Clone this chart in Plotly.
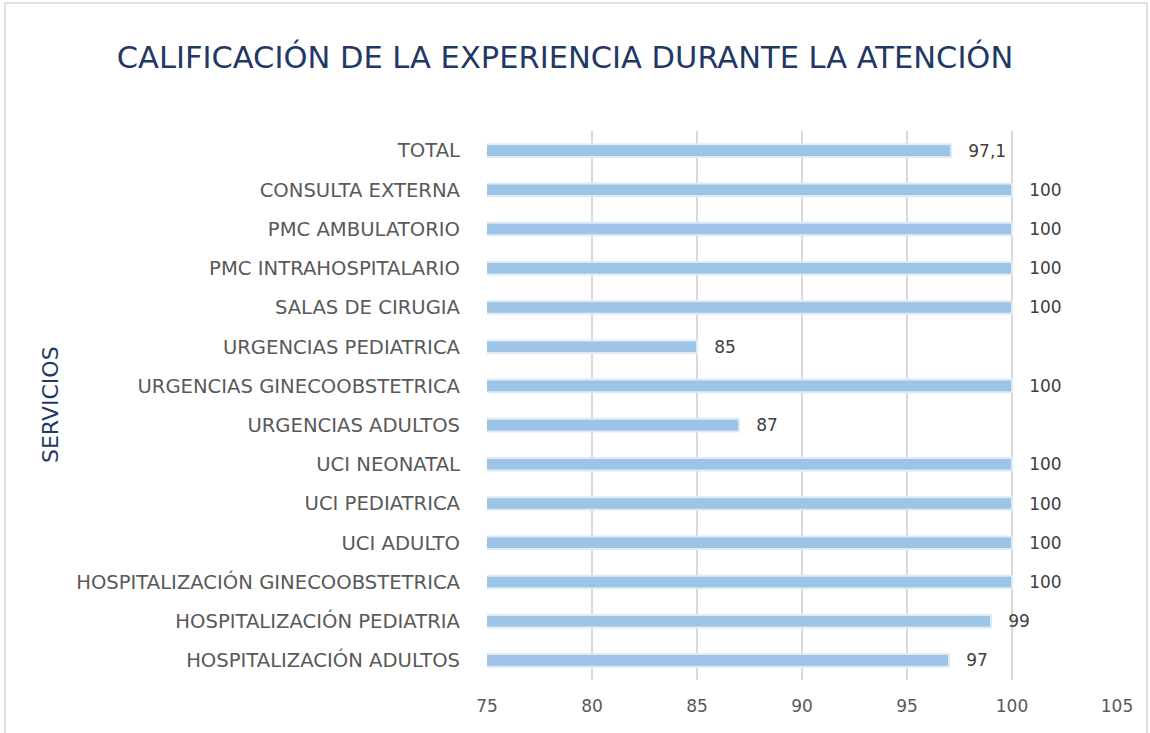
import plotly.graph_objects as go

categories = [
    "HOSPITALIZACIÓN ADULTOS",
    "HOSPITALIZACIÓN PEDIATRIA",
    "HOSPITALIZACIÓN GINECOOBSTETRICA",
    "UCI ADULTO",
    "UCI PEDIATRICA",
    "UCI NEONATAL",
    "URGENCIAS ADULTOS",
    "URGENCIAS GINECOOBSTETRICA",
    "URGENCIAS PEDIATRICA",
    "SALAS DE CIRUGIA",
    "PMC INTRAHOSPITALARIO",
    "PMC AMBULATORIO",
    "CONSULTA EXTERNA",
    "TOTAL",
]
values = [97, 99, 100, 100, 100, 100, 87, 100, 85, 100, 100, 100, 100, 97.1]
value_labels = ["97", "99", "100", "100", "100", "100", "87", "100", "85", "100", "100", "100", "100", "97,1"]
x_ticks = [75, 80, 85, 90, 95, 100, 105]

FONT = "DejaVu Sans"
W, H = 1150, 733
L, R, T, B = 487, 33, 131, 53
pw, ph = W - L - R, H - T - B

pad = "\u00a0\u00a0\u2009"

fig = go.Figure(go.Bar(
    y=categories,
    x=values,
    orientation="h",
    width=0.32,
    marker=dict(color="#9DC3E6", line=dict(color="#DEEBF7", width=2)),
    text=[pad + t for t in value_labels],
    textposition="outside",
    constraintext="none",
    cliponaxis=False,
    textfont=dict(family=FONT, size=17, color="#404040"),
    hoverinfo="skip",
))

def px_x(p):
    return (p - L) / pw

def px_y(p):
    return (H - B - p) / ph

fig.add_shape(type="rect", xref="paper", yref="paper",
              x0=px_x(5), x1=px_x(1147), y0=px_y(745), y1=px_y(3),
              line=dict(color="#D9D9D9", width=1.5), layer="below")

fig.add_annotation(text="SERVICIOS", xref="paper", yref="paper",
                   x=px_x(50), y=px_y(405), textangle=-90, showarrow=False,
                   xanchor="center", yanchor="middle",
                   font=dict(family=FONT, size=22, color="#1F3864"))

fig.update_layout(
    width=W, height=H,
    margin=dict(l=L, r=R, t=T, b=B, autoexpand=False),
    paper_bgcolor="white", plot_bgcolor="white",
    showlegend=False,
    title=dict(text="CALIFICACIÓN DE LA EXPERIENCIA DURANTE LA ATENCIÓN",
               font=dict(family=FONT, size=30.5, color="#1F3864"),
               x=565 / W, xref="container", xanchor="center", y=1 - 57 / H, yanchor="middle"),
    xaxis=dict(range=[75, 105], tickvals=x_ticks, showgrid=True, gridcolor="#D9D9D9", gridwidth=1.5,
               zeroline=False, showline=False, ticks="",
               tickfont=dict(family=FONT, size=17, color="#595959"), ticklabelstandoff=14),
    yaxis=dict(categoryorder="array", categoryarray=categories, showgrid=False, showline=False,
               ticks="", tickfont=dict(family=FONT, size=19.6, color="#595959"), ticklabelstandoff=26),
    separators=",.",
)

fig.write_html("out.html", config={"displayModeBar": False},
               post_script="document.body.style.margin='0';document.body.style.overflow='hidden';")
